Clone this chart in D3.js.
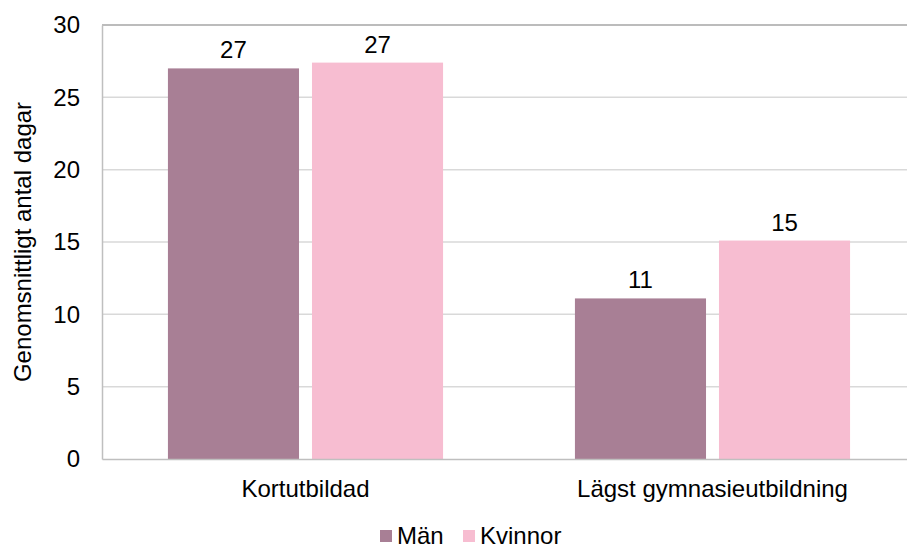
<!DOCTYPE html>
<html>
<head>
<meta charset="utf-8">
<script src="https://cdn.jsdelivr.net/npm/d3@7"></script>
<style>
  body { margin: 0; background: #fff; }
  text { font-family: "Liberation Sans", Arial, sans-serif; fill: #000; }
</style>
</head>
<body>
<div id="chart"></div>
<script>
var categories = ["Kortutbildad", "Lägst gymnasieutbildning"];
var seriesNames = ["Män", "Kvinnor"];
var man = [27.0, 11.1];
var kvinnor = [27.4, 15.1];
var labels = [["27", "11"], ["27", "15"]];
var yTicks = [0, 5, 10, 15, 20, 25, 30];
var colors = ["#a87f95", "#f7bdd1"];

var width = 907, height = 546;
var fontSize = "24px";
var margin = { top: 25, left: 102, right: -9, bottom: 87 };
var w = width - margin.left - margin.right,
    h = height - margin.top - margin.bottom;

var svg = d3.select("#chart").append("svg")
    .attr("width", width)
    .attr("height", height);

var g = svg.append("g")
    .attr("transform", "translate(" + margin.left + "," + margin.top + ")");

var x0 = d3.scaleBand().domain(categories).range([0, w]);
var x1 = d3.scaleBand().domain(seriesNames)
    .range([x0.bandwidth() * 0.162, x0.bandwidth() * 0.838])
    .paddingInner(0.09);
var y = d3.scaleLinear().domain([0, 30]).range([h, 0]);

// gridlines
g.selectAll(".grid")
    .data(yTicks.filter(function (d) { return d > 0 && d < 30; }))
    .enter().append("line")
    .attr("x1", 0).attr("x2", w)
    .attr("y1", function (d) { return y(d); })
    .attr("y2", function (d) { return y(d); })
    .attr("stroke", "#d9d9d9")
    .attr("stroke-width", 1.5);

// top border line
g.append("line")
    .attr("x1", 0).attr("x2", w)
    .attr("y1", y(30)).attr("y2", y(30))
    .attr("stroke", "#a6a6a6").attr("stroke-width", 1.5);

// y axis
var yAxis = g.append("g")
    .call(d3.axisLeft(y).tickValues(yTicks).tickSize(0).tickPadding(22));
yAxis.select(".domain").attr("stroke", "#bfbfbf").attr("stroke-width", 1.5);
yAxis.selectAll("text").style("font-size", fontSize);

var data = [man, kvinnor];

// bars
var groups = g.selectAll(".cat")
    .data(categories)
    .enter().append("g")
    .attr("transform", function (d) { return "translate(" + x0(d) + ",0)"; });

function rows(d, i) {
    return seriesNames.map(function (s, j) {
        return { s: s, v: data[j][i], label: labels[j][i] };
    });
}

groups.selectAll("rect")
    .data(rows)
    .enter().append("rect")
    .attr("x", function (d) { return x1(d.s); })
    .attr("width", x1.bandwidth())
    .attr("y", function (d) { return y(d.v); })
    .attr("height", function (d) { return h - y(d.v); })
    .attr("fill", function (d, j) { return colors[j]; });

groups.selectAll(".lbl")
    .data(rows)
    .enter().append("text")
    .attr("x", function (d) { return x1(d.s) + x1.bandwidth() / 2; })
    .attr("y", function (d) { return y(d.v) - 10; })
    .attr("text-anchor", "middle")
    .style("font-size", fontSize)
    .text(function (d) { return d.label; });

// x axis
var xAxis = g.append("g")
    .attr("transform", "translate(0," + h + ")")
    .call(d3.axisBottom(x0).tickSize(0).tickPadding(21));
xAxis.select(".domain").attr("stroke", "#bfbfbf").attr("stroke-width", 1.5);
xAxis.selectAll("text").style("font-size", fontSize);

// y axis title
svg.append("text")
    .attr("transform", "translate(31," + (margin.top + h / 2) + ") rotate(-90)")
    .attr("text-anchor", "middle")
    .style("font-size", fontSize)
    .text("Genomsnittligt antal dagar");

// legend
var legend = svg.append("g").attr("transform", "translate(380,536)");
var lx = [0, 83];
seriesNames.forEach(function (s, i) {
    legend.append("rect")
        .attr("x", lx[i]).attr("y", -6)
        .attr("width", 12).attr("height", 12)
        .attr("fill", colors[i]);
    legend.append("text")
        .attr("x", lx[i] + 17).attr("y", 0)
        .attr("dy", "0.35em")
        .style("font-size", fontSize)
        .text(s);
});
</script>
</body>
</html>
